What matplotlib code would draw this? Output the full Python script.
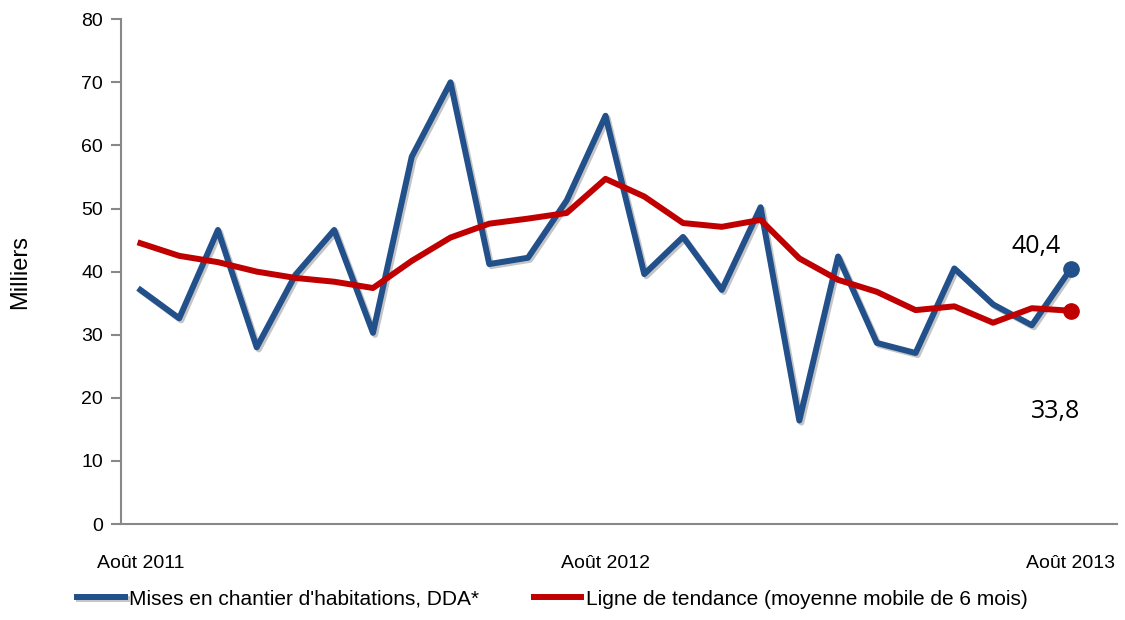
import numpy as np
import matplotlib.pyplot as plt
import matplotlib.patheffects as pe

# Monthly values, Aug 2011 .. Aug 2013 (thousands)
mises = [37.1, 32.6, 46.6, 28.0, 39.5, 46.6, 30.3, 58.2, 70.0, 41.2,
         42.2, 51.3, 64.7, 39.6, 45.5, 37.1, 50.2, 16.4, 42.4, 28.7,
         27.1, 40.5, 34.8, 31.5, 40.4]
tendance = [44.5, 42.5, 41.5, 40.0, 39.0, 38.4, 37.4, 41.7, 45.4, 47.6,
            48.4, 49.3, 54.7, 51.9, 47.7, 47.1, 48.2, 42.1, 38.7, 36.8,
            33.9, 34.5, 31.9, 34.2, 33.8]
tick_pos = [0, 12, 24]
tick_labels = ['Août 2011', 'Août 2012', 'Août 2013']

blue = '#22508a'
red = '#c00000'
x = np.arange(len(mises))

fig = plt.figure(figsize=(11.25, 6.2), dpi=100)
ax = fig.add_axes([0.1076, 0.1548, 0.8854, 0.8142])

shadow = [pe.SimpleLineShadow(offset=(1.5, -1.5), shadow_color='gray', alpha=0.45), pe.Normal()]
ax.plot(x, mises, color=blue, linewidth=4.3,
        label="Mises en chantier d'habitations, DDA*", path_effects=shadow)
ax.plot(x, tendance, color=red, linewidth=4.3,
        label='Ligne de tendance (moyenne mobile de 6 mois)')
ax.plot(x[-1], mises[-1], 'o', color=blue, markersize=11)
ax.plot(x[-1], tendance[-1], 'o', color=red, markersize=11)

ax.text(x[-1] - 0.9, mises[-1] + 1.6, '40,4', fontsize=18, family='Open Sans',
        ha='center', va='bottom')
ax.text(x[-1] - 0.4, 15.8, '33,8', fontsize=18, family='Open Sans',
        ha='center', va='bottom')

ax.set_xlim(-0.5, 25.2)
ax.set_ylim(0, 80)
ax.set_yticks(range(0, 81, 10))
ax.set_xticks(tick_pos)
ax.set_xticklabels(tick_labels)
ax.tick_params(axis='x', length=0, pad=22, labelsize=14)
ax.tick_params(axis='y', length=7, color='#888888', width=1.5, labelsize=14, pad=6)
for lab in ax.get_xticklabels() + ax.get_yticklabels():
    lab.set_family('Liberation Sans')

for s in ['top', 'right']:
    ax.spines[s].set_visible(False)
for s in ['left', 'bottom']:
    ax.spines[s].set_color('#888888')
    ax.spines[s].set_linewidth(1.5)

ax.set_ylabel('Milliers', fontsize=17, family='Liberation Sans', labelpad=36)

fig.legend(loc='lower left', bbox_to_anchor=(0.052, -0.012), ncol=2, frameon=False,
           prop={'family': 'Liberation Sans', 'size': 15}, handlelength=2.3,
           handletextpad=0.2, columnspacing=2.6)

fig.savefig('out.png', dpi=100)
